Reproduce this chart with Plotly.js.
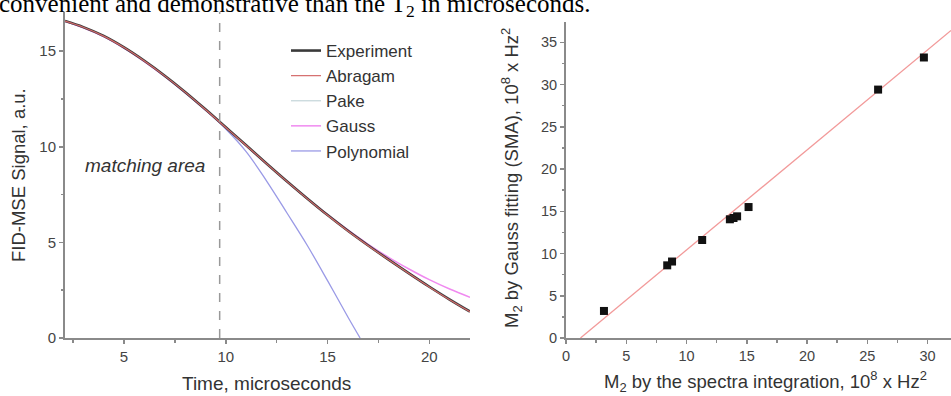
<!DOCTYPE html>
<html>
<head>
<meta charset="utf-8">
<script src="https://cdn.plot.ly/plotly-3.0.1.min.js"></script>
<style>html,body{margin:0;padding:0;background:#fff;}#chart{width:951px;height:396px;}</style>
</head>
<body>
<div id="chart"></div>
<script>
// ---- Left panel: FID-MSE signal vs time ----
const timeX = [2.1, 3, 4, 5, 6, 7, 8, 9, 10, 11, 12, 13, 14, 15, 16, 17, 18, 19, 20, 21, 22];
const experiment = [16.58, 16.26, 15.80, 15.20, 14.50, 13.72, 12.87, 11.96, 11.02, 10.08, 9.13, 8.20, 7.30, 6.43, 5.61, 4.84, 4.10, 3.38, 2.68, 2.01, 1.38];
const abragam = [16.57, 16.25, 15.79, 15.19, 14.49, 13.71, 12.86, 11.95, 11.01, 10.07, 9.12, 8.19, 7.29, 6.42, 5.60, 4.83, 4.09, 3.37, 2.67, 2.00, 1.37];
const pake = [16.57, 16.25, 15.79, 15.20, 14.50, 13.72, 12.87, 11.96, 11.02, 10.07, 9.12, 8.19, 7.29, 6.43, 5.61, 4.85, 4.12, 3.41, 2.72, 2.06, 1.43];
const gauss = [16.56, 16.23, 15.76, 15.16, 14.46, 13.68, 12.83, 11.93, 11.00, 10.06, 9.11, 8.19, 7.30, 6.45, 5.65, 4.90, 4.22, 3.61, 3.05, 2.56, 2.13];
const polyX = [2.1, 3, 4, 5, 6, 7, 8, 9, 10, 11, 12, 13, 14, 15, 16, 16.6];
const polynomial = [16.56, 16.23, 15.76, 15.16, 14.46, 13.68, 12.83, 11.92, 10.93, 9.75, 8.22, 6.55, 4.85, 3.00, 1.10, 0.0];
const matchingTime = 9.7;

// ---- Right panel: M2 comparison ----
const m2Spectra = [3.15, 8.4, 8.8, 11.3, 13.6, 13.9, 14.2, 15.15, 25.9, 29.7];
const m2Gauss = [3.2, 8.6, 9.05, 11.6, 14.05, 14.2, 14.4, 15.5, 29.4, 33.2];
const fitX = [1.2, 31.95];
const fitY = [0, 36.4];

const W = 951, H = 396;
const px = v => v / W;
const py = v => 1 - v / H;

const tickFontL = {family: 'Liberation Sans, Arial, sans-serif', size: 15, color: '#444'};
const tickFontR = {family: 'Liberation Sans, Arial, sans-serif', size: 14.5, color: '#444'};
const axisCommon = {
  showgrid: false, zeroline: false, showline: true, linecolor: '#8a8a8a', linewidth: 2,
  ticks: 'outside', ticklen: 4, tickcolor: '#8a8a8a', tickwidth: 1.5,
  minor: {ticks: 'outside', ticklen: 2.5, tickcolor: '#8a8a8a', tickwidth: 1.5}
};

const traces = [
  {x: polyX, y: polynomial, name: 'Polynomial', mode: 'lines', line: {color: '#9a9ae6', width: 1.3, shape: 'spline'}, xaxis: 'x', yaxis: 'y', legendrank: 5},
  {x: timeX, y: gauss, name: 'Gauss', mode: 'lines', line: {color: '#f08af0', width: 1.5, shape: 'spline'}, xaxis: 'x', yaxis: 'y', legendrank: 4},
  {x: timeX, y: pake, name: 'Pake', mode: 'lines', line: {color: '#c8d8dc', width: 1.3, shape: 'spline'}, xaxis: 'x', yaxis: 'y', legendrank: 3},
  {x: timeX, y: experiment, name: 'Experiment', mode: 'lines', line: {color: '#3a3a3a', width: 2.6, shape: 'spline'}, xaxis: 'x', yaxis: 'y', legendrank: 1},
  {x: timeX, y: abragam, name: 'Abragam', mode: 'lines', line: {color: '#d46a6a', width: 1.2, shape: 'spline'}, xaxis: 'x', yaxis: 'y', legendrank: 2},
  {x: fitX, y: fitY, mode: 'lines', line: {color: '#f29a9a', width: 1.3}, xaxis: 'x2', yaxis: 'y2', showlegend: false},
  {x: m2Spectra, y: m2Gauss, mode: 'markers', marker: {symbol: 'square', size: 8, color: '#111'}, xaxis: 'x2', yaxis: 'y2', showlegend: false}
];

const layout = {
  width: W, height: H,
  margin: {l: 0, r: 0, t: 0, b: 0},
  paper_bgcolor: '#fff', plot_bgcolor: 'rgba(0,0,0,0)',
  font: {family: 'Liberation Sans, Arial, sans-serif', color: '#333'},
  showlegend: true,
  legend: {
    x: px(286), y: py(33), xanchor: 'left', yanchor: 'top',
    font: {family: 'Liberation Sans, Arial, sans-serif', size: 17, color: '#333'},
    bgcolor: 'rgba(0,0,0,0)', traceorder: 'normal', tracegroupgap: 0
  },
  xaxis: Object.assign({}, axisCommon, {
    domain: [px(65), px(470)], range: [2.1, 22], tick0: 0, dtick: 5,
    minor: Object.assign({}, axisCommon.minor, {dtick: 2.5, tick0: 0}),
    tickfont: tickFontL, anchor: 'y'
  }),
  yaxis: Object.assign({}, axisCommon, {
    domain: [py(338), py(12)], range: [0, 17.05], tick0: 0, dtick: 5,
    minor: Object.assign({}, axisCommon.minor, {dtick: 2.5, tick0: 0}),
    tickfont: tickFontL, anchor: 'x'
  }),
  xaxis2: Object.assign({}, axisCommon, {
    domain: [px(566), 1], range: [0, 31.95], tick0: 0, dtick: 5,
    minor: Object.assign({}, axisCommon.minor, {dtick: 2.5, tick0: 0}),
    tickfont: tickFontR, anchor: 'y2'
  }),
  yaxis2: Object.assign({}, axisCommon, {
    domain: [py(338), py(22)], range: [0, 37.4], tick0: 0, dtick: 5,
    minor: Object.assign({}, axisCommon.minor, {dtick: 2.5, tick0: 0}),
    tickfont: tickFontR, anchor: 'x2'
  }),
  shapes: [
    {type: 'line', xref: 'x', yref: 'y', x0: matchingTime, x1: matchingTime, y0: 0, y1: 17.05,
     line: {color: '#999', width: 1.5, dash: 'dash'}}
  ],
  annotations: [
    {text: 'convenient and demonstrative than the T<sub>2</sub> in microseconds.', xref: 'paper', yref: 'paper',
     x: px(-3), y: py(5), xanchor: 'left', yanchor: 'middle', showarrow: false,
     font: {family: 'Liberation Serif, Times New Roman, serif', size: 25, color: '#000'}},
    {text: 'FID-MSE Signal, a.u.', xref: 'paper', yref: 'paper', x: px(18), y: py(175),
     xanchor: 'center', yanchor: 'middle', textangle: -90, showarrow: false,
     font: {size: 18.5, color: '#333'}},
    {text: 'Time, microseconds', xref: 'paper', yref: 'paper', x: px(266), y: py(383),
     xanchor: 'center', yanchor: 'middle', showarrow: false, font: {size: 19, color: '#333'}},
    {text: '<i>matching area</i>', xref: 'paper', yref: 'paper', x: px(145), y: py(166),
     xanchor: 'center', yanchor: 'middle', showarrow: false, font: {size: 19, color: '#333'}},
    {text: 'M<sub>2</sub> by Gauss fitting (SMA), 10<sup>8</sup> x Hz<sup>2</sup>', xref: 'paper', yref: 'paper',
     x: px(511), y: py(178), xanchor: 'center', yanchor: 'middle', textangle: -90, showarrow: false,
     font: {size: 18.5, color: '#333'}},
    {text: 'M<sub>2</sub> by the spectra integration, 10<sup>8</sup> x Hz<sup>2</sup>', xref: 'paper', yref: 'paper',
     x: px(765), y: py(381), xanchor: 'center', yanchor: 'middle', showarrow: false,
     font: {size: 18.5, color: '#333'}}
  ]
};

Plotly.newPlot('chart', traces, layout, {staticPlot: true, displayModeBar: false});
</script>
</body>
</html>
